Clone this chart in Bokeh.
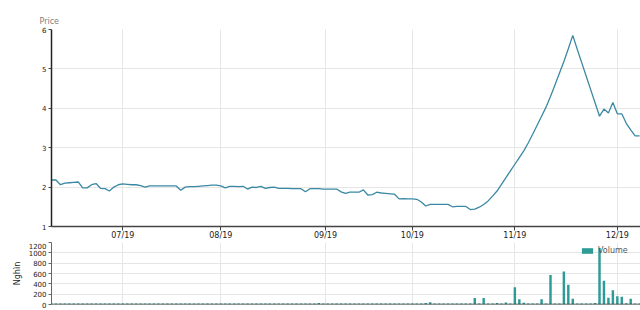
from bokeh.plotting import figure
from bokeh.models import Range1d, FixedTicker, Legend, LegendItem, Span
from bokeh.layouts import column
from bokeh.embed import file_html
from bokeh.resources import INLINE

# ---- data ----
tick_pos = [16, 38, 61.5, 81, 104, 127]
tick_labels = ["07/19", "08/19", "09/19", "10/19", "11/19", "12/19"]
price_ticks = [1, 2, 3, 4, 5, 6]
volume_ticks = [0, 200, 400, 600, 800, 1000, 1200]

price = [
    2.18, 2.18, 2.06, 2.10, 2.11, 2.12, 2.13, 1.98, 1.98, 2.06,
    2.09, 1.97, 1.96, 1.90, 2.00, 2.06, 2.08, 2.07, 2.06, 2.06,
    2.04, 2.00, 2.03, 2.03, 2.03, 2.03, 2.03, 2.03, 2.03, 1.92,
    2.00, 2.01, 2.01, 2.02, 2.03, 2.04, 2.05, 2.05, 2.03, 1.98,
    2.02, 2.02, 2.01, 2.02, 1.95, 2.00, 1.99, 2.02, 1.97, 1.99,
    2.00, 1.97, 1.97, 1.97, 1.96, 1.96, 1.96, 1.88, 1.96, 1.96,
    1.96, 1.95, 1.95, 1.95, 1.95, 1.88, 1.84, 1.87, 1.87, 1.87,
    1.93, 1.80, 1.81, 1.87, 1.85, 1.84, 1.83, 1.82, 1.70, 1.71,
    1.70, 1.70, 1.69, 1.62, 1.52, 1.56, 1.56, 1.56, 1.56, 1.56,
    1.50, 1.51, 1.51, 1.51, 1.43, 1.44, 1.49, 1.56, 1.65, 1.77,
    1.90, 2.07, 2.24, 2.41, 2.58, 2.75, 2.92, 3.12, 3.34, 3.57,
    3.80, 4.03, 4.30, 4.59, 4.89, 5.19, 5.51, 5.85, 5.50, 5.16,
    4.82, 4.48, 4.14, 3.80, 3.98, 3.88, 4.15, 3.86, 3.86, 3.62,
    3.45, 3.30, 3.30,
]

volume = [
    20, 20, 20, 20, 20, 20, 20, 20, 20, 20,
    20, 20, 20, 20, 20, 20, 20, 20, 20, 20,
    20, 20, 20, 20, 20, 20, 20, 20, 20, 20,
    20, 20, 20, 20, 20, 20, 20, 20, 20, 20,
    20, 20, 20, 20, 20, 20, 20, 20, 20, 20,
    20, 20, 20, 20, 20, 20, 20, 20, 20, 20,
    30, 20, 20, 20, 20, 20, 20, 20, 20, 20,
    20, 20, 20, 20, 20, 20, 20, 20, 20, 20,
    20, 20, 20, 20, 30, 45, 20, 20, 20, 20,
    20, 20, 20, 20, 20, 125, 20, 125, 20, 20,
    30, 20, 40, 20, 335, 100, 35, 20, 20, 20,
    100, 20, 572, 20, 20, 637, 382, 110, 20, 20,
    20, 20, 30, 1095, 462, 130, 276, 160, 148, 22,
    112, 20, 20,
]

day = list(range(len(price)))

FONT = "DejaVu Sans"
GRID = "#e6e6e6"
LINE_C = "#3a88a3"
BAR_C = "#2e9b96"

xr = Range1d(0, 132.2)

# ---- price chart ----
p = figure(width=640, height=242, x_range=xr, y_range=Range1d(1, 6),
           output_backend="svg", toolbar_location=None, title="Price",
           min_border_left=51, min_border_right=0, min_border_top=29,
           min_border_bottom=13)
p.outline_line_color = None
p.title.align = "left"
p.title.offset = -12
p.title.standoff = 8
p.title.text_font = FONT
p.title.text_font_size = "8px"
p.title.text_font_style = "normal"
p.title.text_color = "#808080"

p.line(day, price, line_color=LINE_C, line_width=1.3)

p.xaxis.ticker = FixedTicker(ticks=tick_pos)
p.xaxis.major_label_overrides = dict(zip(tick_pos, tick_labels))
p.xaxis.major_tick_out = 4
p.xaxis.major_tick_in = 0
p.xaxis.major_label_standoff = 0
p.xaxis.axis_line_color = "#444444"
p.xaxis.axis_line_width = 1.5
p.xaxis.major_tick_line_color = "#444444"
p.xaxis.major_label_text_font = FONT
p.xaxis.major_label_text_font_size = "8px"
p.xaxis.major_label_text_color = "#222222"

p.yaxis.ticker = FixedTicker(ticks=price_ticks)
p.yaxis.major_tick_out = 3
p.yaxis.major_tick_in = 0
p.yaxis.major_label_standoff = 2
p.yaxis.axis_line_color = "#222222"
p.yaxis.axis_line_width = 1.5
p.yaxis.major_tick_line_color = "#444444"
p.yaxis.major_label_text_font = FONT
p.yaxis.major_label_text_font_size = "7px"
p.yaxis.major_label_text_color = "#222222"

p.xgrid.grid_line_color = GRID
p.ygrid.grid_line_color = GRID

# ---- volume chart ----
v = figure(width=640, height=68, x_range=xr, y_range=Range1d(0, 1200),
           output_backend="svg", toolbar_location=None,
           x_axis_location=None,
           min_border_left=51, min_border_right=0, min_border_top=0,
           min_border_bottom=6)
v.outline_line_color = None

bars = v.vbar(x=day, top=volume, width=0.55, fill_color=BAR_C,
              line_color=None)

v.xgrid.ticker = FixedTicker(ticks=tick_pos)
v.xgrid.grid_line_color = GRID
v.ygrid.grid_line_color = GRID
v.yaxis.ticker = FixedTicker(ticks=volume_ticks)
v.yaxis.major_tick_out = 3
v.yaxis.major_tick_in = 0
v.yaxis.major_label_standoff = 2
v.yaxis.axis_line_color = "#666666"
v.yaxis.major_tick_line_color = "#666666"
v.yaxis.major_label_text_font = FONT
v.yaxis.major_label_text_font_size = "7px"
v.yaxis.major_label_text_color = "#222222"
v.yaxis.axis_label = "Nghìn"
v.yaxis.axis_label_text_font = FONT
v.yaxis.axis_label_text_font_size = "8px"
v.yaxis.axis_label_text_font_style = "normal"
v.yaxis.axis_label_text_color = "#222222"
v.yaxis.axis_label_standoff = 4

v.add_layout(Span(location=0, dimension="width", line_color="#333333",
                  line_width=1.5))

vleg = Legend(items=[LegendItem(label="Volume", renderers=[bars])],
              location=(529, 49), padding=0, margin=0, spacing=0,
              glyph_width=14, glyph_height=7, label_height=8,
              label_standoff=4, label_text_font=FONT,
              label_text_font_size="8px", label_text_color="#555555",
              background_fill_alpha=0, border_line_color=None)
v.add_layout(vleg)

layout = column(p, v, spacing=0)
open("out.html", "w").write(file_html(layout, INLINE))
